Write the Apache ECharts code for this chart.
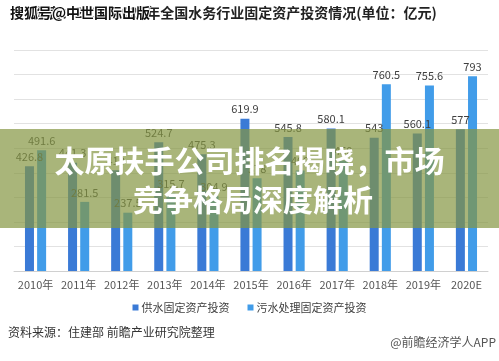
<!DOCTYPE html>
<html>
<head>
<meta charset="utf-8">
<script src="https://cdn.jsdelivr.net/npm/echarts@6/dist/echarts.min.js"></script>
<style>
html,body{margin:0;padding:0;background:#fff;}
#c{width:499px;height:361px;}
</style>
</head>
<body>
<div id="c"></div>
<script>
const categories = ['2010年','2011年','2012年','2013年','2014年','2015年','2016年','2017年','2018年','2019年','2020E'];
const supplyValues = [426.8, 441.3, 410.0, 524.7, 475.3, 619.9, 545.8, 580.1, 543.0, 560.1, 577];
const sewageValues = [491.6, 281.5, 237.5, 315.7, 304.9, 378.0, 409.0, 450.0, 760.5, 755.6, 793];
const seriesNames = ['供水固定资产投资', '污水处理固定资产投资'];
const yTicks = {min: 0, max: 900, interval: 100};

const chart = echarts.init(document.getElementById('c'));
const F = "'Noto Sans CJK SC', sans-serif";
const labelStyle = {show: true, position: 'top', distance: 4, fontSize: 11, color: '#404040', fontFamily: F,
  formatter: p => String(p.value)};
chart.setOption({
  animation: false,
  backgroundColor: '#fff',
  grid: {left: 14, right: 11, top: 50, bottom: 90, containLabel: false},
  legend: {
    top: 297, left: 'center', itemWidth: 6, itemHeight: 6, itemGap: 18, icon: 'rect',
    textStyle: {fontSize: 11, color: '#404040', fontFamily: F, padding: [0,0,0,-2]},
    data: seriesNames
  },
  xAxis: {
    type: 'category', data: categories,
    axisLine: {lineStyle: {color: '#d0d0d0'}}, axisTick: {show: false},
    axisLabel: {interval: 0, fontSize: 11, color: '#555', fontFamily: F, margin: 8}
  },
  yAxis: {
    type: 'value', min: yTicks.min, max: yTicks.max, interval: yTicks.interval,
    axisLabel: {show: false}, axisLine: {show: false}, axisTick: {show: false},
    splitLine: {lineStyle: {color: '#e2e2e2'}}
  },
  series: [
    {name: seriesNames[0], type: 'bar', data: supplyValues, barWidth: 9, barGap: '35%',
     itemStyle: {color: '#3a7ad6'}, label: labelStyle},
    {name: seriesNames[1], type: 'bar', data: sewageValues, barWidth: 9,
     itemStyle: {color: '#419ce9'}, label: labelStyle}
  ],
  graphic: [
    {type: 'text', left: 33, top: 6, z: 10, style: {text: '图表：2010-2020年全国水务行业固定资产投资情况(单位：亿元)', font: "bold 14px " + F, fill: '#222'}},
    {type: 'text', left: 9, top: 5, z: 11, style: {text: '搜狐号@中世国际出版', font: "bold 14px " + F, fill: '#111', stroke: '#fff', lineWidth: 2}},
    {type: 'rect', left: 0, top: 129, z: 20, shape: {width: 499, height: 99}, style: {fill: 'rgba(133,150,66,0.70)'}},
    {type: 'text', left: 'center', top: 146, z: 21, style: {text: '太原扶手公司排名揭晓，市场', font: "bold 30px " + F, fill: '#fff', shadowBlur: 3, shadowColor: 'rgba(0,0,0,0.35)'}},
    {type: 'text', left: 133, top: 185, z: 21, style: {text: '竞争格局深度解析', font: "bold 30px " + F, fill: '#fff', shadowBlur: 3, shadowColor: 'rgba(0,0,0,0.35)'}},
    {type: 'text', left: 8, top: 326, z: 10, style: {text: '资料来源：住建部 前瞻产业研究院整理', font: "12px " + F, fill: '#333'}},
    {type: 'text', right: 3, top: 336, z: 10, style: {text: '@前瞻经济学人APP', font: "12px " + F, fill: '#555'}}
  ]
});
</script>
</body>
</html>
